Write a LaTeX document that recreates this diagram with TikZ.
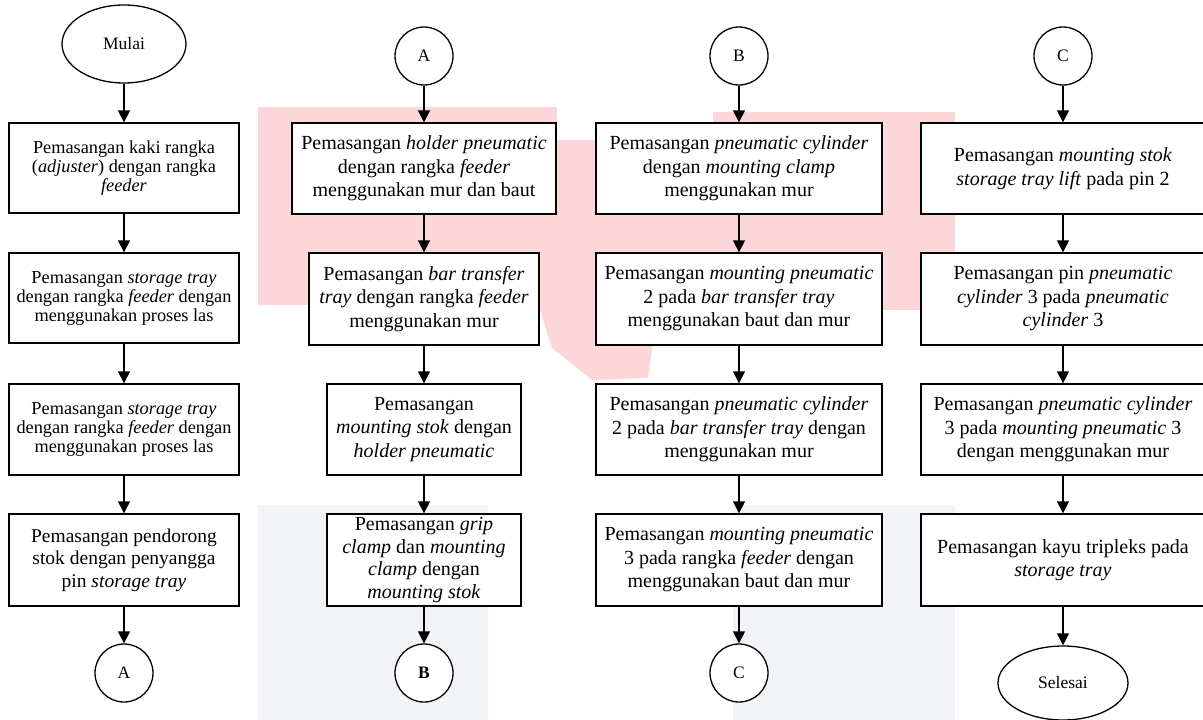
\documentclass[tikz,border=0pt]{standalone}
\usepackage{fontspec}
\setmainfont{Liberation Serif}
\usetikzlibrary{arrows.meta,shapes.geometric}
\newcommand\fsz[2]{\fontsize{#1}{#2}\selectfont}
\definecolor{wpink}{RGB}{253,214,218}
\definecolor{wgrey}{RGB}{242,243,246}
\begin{document}
\begin{tikzpicture}[x=1pt,y=-1pt,
  box/.style={draw, line width=1.4pt, fill=white, align=center, inner sep=0pt, font=\fsz{20}{23.5}},
  boxsmall/.style={box, font=\fsz{18.3}{19}},
  boxmid/.style={box, font=\fsz{19.5}{22.5}},
  conn/.style={draw, circle, line width=1.3pt, fill=white, minimum size=58pt, inner sep=0pt, font=\fsz{17.5}{20}},
  term/.style={draw, ellipse, line width=1.3pt, fill=white, inner sep=0pt, font=\fsz{17.5}{20}},
  arr/.style={line width=1.5pt, -{Triangle[length=12pt,width=12pt]}}]
\useasboundingbox (0,0) rectangle (1203,720);
\fill[white] (0,0) rectangle (1203,720);
% watermark
\fill[wpink] (258,107) rectangle (557,305);
\fill[wpink] (557,140) rectangle (955,310);
\fill[wpink] (713,112) rectangle (955,140);
\fill[wpink] (540,140) -- (592,143) -- (612,185) -- (635,250) -- (655,330) -- (648,378) -- (592,380) -- (552,348) -- (540,310) -- cycle;
\fill[wgrey] (258,505) rectangle (488,720);
\fill[wgrey] (733,505) rectangle (955,720);

% column 1
\node[term, minimum width=124pt, minimum height=78pt] (mulai) at (124,44) {Mulai};
\node[boxsmall, minimum width=230pt, minimum height=90pt] (a1) at (124,168) {Pemasangan kaki rangka\\(\textit{adjuster}) dengan rangka\\\textit{feeder}};
\node[boxsmall, minimum width=230pt, minimum height=90pt] (a2) at (124,298) {Pemasangan \textit{storage tray}\\dengan rangka \textit{feeder} dengan\\menggunakan proses las};
\node[boxsmall, minimum width=230pt, minimum height=91pt] (a3) at (124,429.5) {Pemasangan \textit{storage tray}\\dengan rangka \textit{feeder} dengan\\menggunakan proses las};
\node[boxmid, minimum width=230pt, minimum height=92pt] (a4) at (124,560) {Pemasangan pendorong\\stok dengan penyangga\\pin \textit{storage tray}};
\node[conn] (ca1) at (124,673) {A};
\draw[arr] (mulai) -- (a1);
\draw[arr] (a1) -- (a2);
\draw[arr] (a2) -- (a3);
\draw[arr] (a3) -- (a4);
\draw[arr] (a4) -- (ca1);

% column 2
\node[conn] (ca2) at (424,56) {A};
\node[box, minimum width=264pt, minimum height=91pt] (b1) at (424,168.5) {Pemasangan \textit{holder pneumatic}\\dengan rangka \textit{feeder}\\menggunakan mur dan baut};
\node[box, minimum width=230pt, minimum height=92pt] (b2) at (424,299) {Pemasangan \textit{bar transfer}\\\textit{tray} dengan rangka \textit{feeder}\\menggunakan mur};
\node[box, minimum width=194pt, minimum height=91pt] (b3) at (424,429.5) {Pemasangan\\\textit{mounting stok} dengan\\\textit{holder pneumatic}};
\node[box, minimum width=194pt, minimum height=92pt, font=\fsz{20}{22.5}] (b4) at (424,560) {Pemasangan \textit{grip}\\\textit{clamp} dan \textit{mounting}\\\textit{clamp} dengan\\\textit{mounting stok}};
\node[conn, font=\fsz{17.5}{20}\bfseries] (cb1) at (424,673) {B};
\draw[arr] (ca2) -- (b1);
\draw[arr] (b1) -- (b2);
\draw[arr] (b2) -- (b3);
\draw[arr] (b3) -- (b4);
\draw[arr] (b4) -- (cb1);

% column 3
\node[conn] (cb2) at (739,56) {B};
\node[box, minimum width=286pt, minimum height=91pt] (c1) at (739,168.5) {Pemasangan \textit{pneumatic cylinder}\\dengan \textit{mounting clamp}\\menggunakan mur};
\node[box, minimum width=286pt, minimum height=92pt] (c2) at (739,299) {Pemasangan \textit{mounting pneumatic}\\2 pada \textit{bar transfer tray}\\menggunakan baut dan mur};
\node[box, minimum width=286pt, minimum height=91pt] (c3) at (739,429.5) {Pemasangan \textit{pneumatic cylinder}\\2 pada \textit{bar transfer tray} dengan\\menggunakan mur};
\node[box, minimum width=286pt, minimum height=92pt] (c4) at (739,560) {Pemasangan \textit{mounting pneumatic}\\3 pada rangka \textit{feeder} dengan\\menggunakan baut dan mur};
\node[conn] (cc1) at (739,673) {C};
\draw[arr] (cb2) -- (c1);
\draw[arr] (c1) -- (c2);
\draw[arr] (c2) -- (c3);
\draw[arr] (c3) -- (c4);
\draw[arr] (c4) -- (cc1);

% column 4
\node[conn] (cc2) at (1063,56) {C};
\node[box, minimum width=284pt, minimum height=91pt] (d1) at (1063,168.5) {Pemasangan \textit{mounting stok}\\\textit{storage tray lift} pada pin 2};
\node[box, minimum width=284pt, minimum height=92pt] (d2) at (1063,299) {Pemasangan pin \textit{pneumatic}\\\textit{cylinder} 3 pada \textit{pneumatic}\\\textit{cylinder} 3};
\node[box, minimum width=284pt, minimum height=91pt] (d3) at (1063,429.5) {Pemasangan \textit{pneumatic cylinder}\\3 pada \textit{mounting pneumatic} 3\\dengan menggunakan mur};
\node[box, minimum width=284pt, minimum height=92pt] (d4) at (1063,560) {Pemasangan kayu tripleks pada\\\textit{storage tray}};
\node[term, minimum width=130pt, minimum height=74pt] (selesai) at (1063,683) {Selesai};
\draw[arr] (cc2) -- (d1);
\draw[arr] (d1) -- (d2);
\draw[arr] (d2) -- (d3);
\draw[arr] (d3) -- (d4);
\draw[arr] (d4) -- (selesai);
\end{tikzpicture}
\end{document}
